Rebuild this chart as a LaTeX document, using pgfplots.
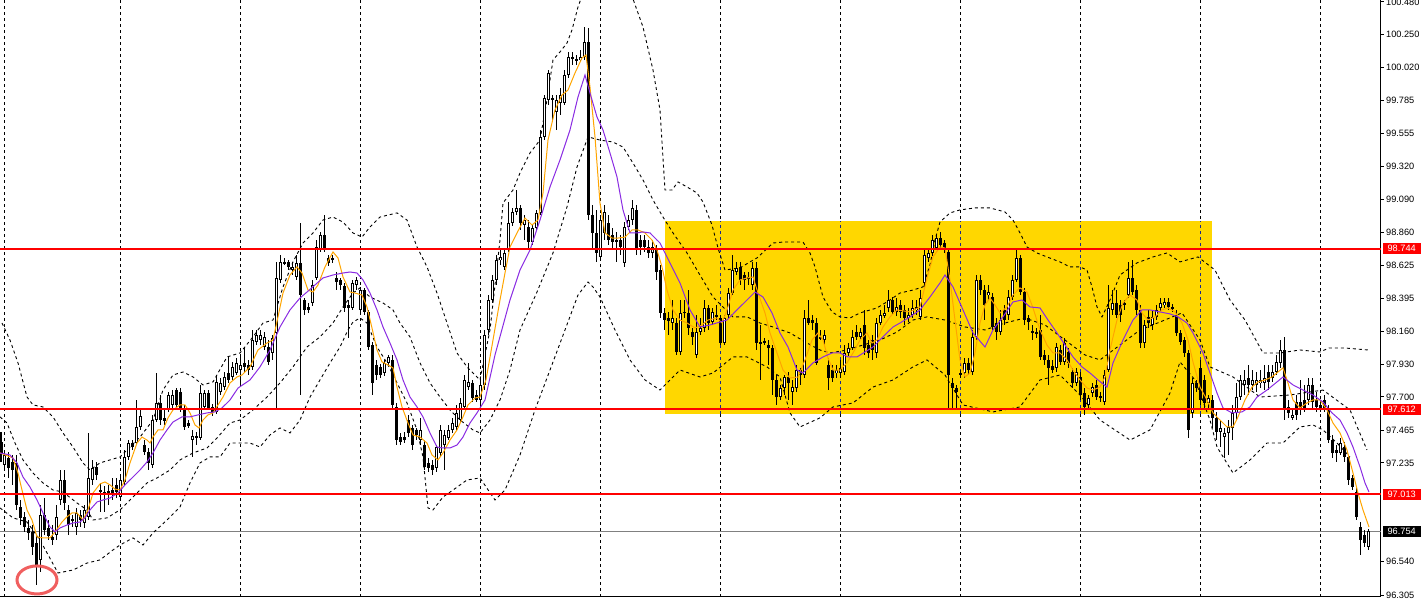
\documentclass[border=0pt]{standalone}
\usepackage{pgfplots}
\usepackage{pgfplotstable}
\pgfplotsset{compat=1.18}
\usepackage{fontspec}
\setmainfont{Liberation Sans}
\definecolor{maorange}{RGB}{255,165,0}
\definecolor{mapurple}{RGB}{138,43,226}
\definecolor{boxgold}{RGB}{255,215,0}
\definecolor{navygrid}{RGB}{25,40,140}
\definecolor{circred}{RGB}{240,95,95}
\pgfplotstableread{
i o h l c
0 97.382 97.453 97.242 97.305
1 97.221 97.326 97.185 97.291
2 97.270 97.312 97.129 97.200
3 97.242 97.291 97.080 97.185
4 97.235 97.291 96.904 96.939
5 96.925 96.974 96.798 96.848
6 96.855 96.890 96.749 96.784
7 96.777 96.833 96.692 96.742
8 96.749 96.798 96.587 96.643
9 96.671 96.728 96.376 96.503
10 96.552 96.939 96.467 96.869
11 96.869 96.988 96.728 96.763
12 96.777 96.833 96.692 96.721
13 96.714 96.798 96.657 96.692
14 96.728 96.939 96.692 96.855
15 96.974 97.185 96.939 97.115
16 97.115 97.185 96.904 96.953
17 96.904 96.939 96.728 96.798
18 96.841 96.869 96.784 96.826
19 96.784 96.918 96.728 96.883
20 96.869 96.904 96.784 96.833
21 96.812 96.939 96.777 96.904
22 96.855 97.446 96.833 97.129
23 97.115 97.256 97.080 97.200
24 97.207 97.242 97.115 97.150
25 97.044 97.094 96.890 97.030
26 97.030 97.073 96.890 97.023
27 97.037 97.080 96.939 97.023
28 97.044 97.129 96.974 97.009
29 97.080 97.129 96.988 97.030
30 96.995 97.150 96.974 97.115
31 97.101 97.326 97.080 97.277
32 97.277 97.396 97.256 97.375
33 97.375 97.396 97.326 97.347
34 97.375 97.678 97.361 97.488
35 97.488 97.608 97.467 97.566
36 97.361 97.396 97.291 97.312
37 97.312 97.340 97.185 97.235
38 97.221 97.573 97.200 97.537
39 97.537 97.868 97.523 97.657
40 97.657 97.713 97.502 97.537
41 97.552 97.608 97.502 97.530
42 97.608 97.734 97.594 97.713
43 97.643 97.748 97.608 97.713
44 97.748 97.762 97.622 97.643
45 97.734 97.762 97.594 97.622
46 97.608 97.643 97.467 97.488
47 97.516 97.537 97.481 97.495
48 97.396 97.467 97.277 97.424
49 97.424 97.453 97.361 97.410
50 97.410 97.783 97.396 97.727
51 97.629 97.748 97.608 97.727
52 97.727 97.748 97.608 97.622
53 97.629 97.650 97.566 97.594
54 97.594 97.854 97.580 97.805
55 97.734 97.833 97.713 97.798
56 97.769 97.875 97.748 97.840
57 97.868 97.981 97.798 97.819
58 97.840 97.946 97.819 97.911
59 97.868 97.974 97.854 97.939
60 97.889 97.995 97.784 97.925
61 97.939 98.051 97.875 97.911
62 97.925 97.960 97.854 97.889
63 97.911 98.171 97.889 98.100
64 98.086 98.171 98.065 98.136
65 98.100 98.171 98.065 98.136
66 98.051 98.157 98.030 98.122
67 98.051 98.100 97.925 97.946
68 98.009 98.136 97.960 98.115
69 98.150 98.650 97.622 98.537
70 98.523 98.699 98.502 98.650
71 98.650 98.678 98.629 98.643
72 98.650 98.664 98.593 98.615
73 98.593 98.650 98.558 98.615
74 98.544 98.699 98.523 98.643
75 98.643 98.924 97.713 98.417
76 98.382 98.396 98.277 98.312
77 98.333 98.361 98.291 98.312
78 98.361 98.523 98.340 98.488
79 98.537 98.804 98.523 98.755
80 98.734 98.861 98.720 98.840
81 98.840 98.981 98.720 98.734
82 98.678 98.699 98.622 98.643
83 98.678 98.699 98.643 98.664
84 98.537 98.579 98.452 98.509
85 98.523 98.537 98.452 98.488
86 98.481 98.502 98.298 98.326
87 98.347 98.382 98.115 98.326
88 98.326 98.523 98.312 98.502
89 98.488 98.544 98.452 98.523
90 98.312 98.474 98.298 98.452
91 98.452 98.467 98.277 98.298
92 98.298 98.312 98.030 98.051
93 98.065 98.086 97.713 97.798
94 97.925 97.960 97.819 97.854
95 97.911 97.932 97.833 97.854
96 97.868 97.960 97.847 97.939
97 97.939 97.995 97.925 97.981
98 97.960 97.995 97.608 97.643
99 97.629 97.657 97.361 97.396
100 97.417 97.446 97.361 97.382
101 97.417 97.453 97.375 97.396
102 97.537 97.573 97.417 97.446
103 97.481 97.502 97.326 97.361
104 97.467 97.481 97.396 97.432
105 97.396 97.552 97.361 97.467
106 97.361 97.396 97.185 97.207
107 97.235 97.270 97.171 97.200
108 97.221 97.256 97.150 97.185
109 97.200 97.361 97.171 97.347
110 97.305 97.502 97.284 97.467
111 97.361 97.467 97.185 97.432
112 97.410 97.502 97.396 97.467
113 97.467 97.552 97.446 97.516
114 97.488 97.643 97.467 97.587
115 97.537 97.692 97.516 97.657
116 97.629 97.854 97.608 97.819
117 97.769 97.939 97.748 97.805
118 97.798 97.819 97.664 97.692
119 97.713 97.748 97.664 97.678
120 97.678 97.819 97.608 97.784
121 97.784 98.171 97.748 98.136
122 98.171 98.417 98.136 98.382
123 98.382 98.558 98.361 98.523
124 98.523 98.699 98.488 98.664
125 98.664 98.734 98.629 98.685
126 98.615 98.748 98.593 98.713
127 98.734 99.072 98.720 98.924
128 98.924 99.030 98.903 99.002
129 99.002 99.156 98.981 99.030
130 99.030 99.051 98.875 98.924
131 98.910 98.981 98.804 98.945
132 98.896 98.945 98.734 98.790
133 98.790 98.910 98.769 98.889
134 98.889 99.016 98.875 98.995
135 98.995 99.579 98.981 99.530
136 99.530 99.825 99.508 99.804
137 99.790 100.001 99.755 99.980
138 99.804 99.825 99.649 99.790
139 99.706 99.825 99.579 99.790
140 99.769 99.875 99.685 99.825
141 99.769 100.001 99.755 99.966
142 99.966 100.128 99.945 100.093
143 100.093 100.128 100.037 100.079
144 100.079 100.107 100.037 100.065
145 100.072 100.142 100.058 100.093
146 100.093 100.304 100.072 100.198
147 100.198 100.297 98.945 98.981
148 98.981 99.051 98.734 98.854
149 98.854 99.016 98.650 98.713
150 98.685 98.981 98.664 98.945
151 98.854 99.051 98.804 99.002
152 98.924 98.981 98.769 98.804
153 98.840 98.889 98.734 98.790
154 98.804 98.861 98.650 98.790
155 98.804 98.840 98.699 98.755
156 98.643 98.931 98.615 98.896
157 98.896 98.981 98.875 98.945
158 98.945 99.086 98.910 99.030
159 99.016 99.051 98.699 98.748
160 98.804 98.840 98.699 98.755
161 98.804 98.840 98.720 98.755
162 98.755 98.804 98.678 98.713
163 98.713 98.804 98.678 98.755
164 98.734 98.769 98.523 98.579
165 98.593 98.629 98.255 98.291
166 98.291 98.326 98.171 98.241
167 98.255 98.298 98.136 98.234
168 98.220 98.382 98.171 98.255
169 98.220 98.255 97.995 98.016
170 98.016 98.382 97.995 98.291
171 98.291 98.382 98.255 98.298
172 98.291 98.452 98.136 98.185
173 98.157 98.185 98.065 98.122
174 97.995 98.277 97.974 98.157
175 98.157 98.255 98.136 98.185
176 98.185 98.382 98.157 98.326
177 98.326 98.347 98.171 98.220
178 98.227 98.326 98.206 98.298
179 98.277 98.347 98.241 98.263
180 98.255 98.277 98.065 98.079
181 98.079 98.277 98.065 98.255
182 98.277 98.467 98.255 98.431
183 98.431 98.699 98.417 98.593
184 98.579 98.650 98.558 98.608
185 98.615 98.650 98.488 98.523
186 98.558 98.579 98.452 98.523
187 98.544 98.579 98.488 98.530
188 98.488 98.650 98.452 98.608
189 98.608 98.650 98.030 98.079
190 98.086 98.206 97.819 98.079
191 98.093 98.115 98.065 98.086
192 98.065 98.100 97.925 98.044
193 98.044 98.065 97.713 97.819
194 97.819 97.854 97.643 97.699
195 97.699 97.784 97.678 97.762
196 97.762 97.854 97.713 97.840
197 97.840 97.875 97.678 97.798
198 97.734 97.819 97.643 97.769
199 97.762 97.925 97.734 97.889
200 97.889 97.904 97.784 97.854
201 97.854 98.312 97.833 98.255
202 98.255 98.382 98.206 98.220
203 98.241 98.277 98.171 98.220
204 98.220 98.255 97.925 97.939
205 98.115 98.171 98.100 98.122
206 98.100 98.171 98.065 98.136
207 97.925 97.974 97.748 97.833
208 97.889 97.925 97.805 97.833
209 97.868 97.925 97.833 97.889
210 97.868 97.960 97.833 97.904
211 97.875 98.065 97.854 98.009
212 98.009 98.079 97.988 98.044
213 98.044 98.171 98.030 98.122
214 98.157 98.206 98.100 98.122
215 98.122 98.185 98.100 98.157
216 98.206 98.312 97.995 98.044
217 98.065 98.100 97.974 98.009
218 98.100 98.136 97.960 98.030
219 98.009 98.255 97.974 98.220
220 98.220 98.312 98.206 98.277
221 98.270 98.347 98.255 98.291
222 98.326 98.452 98.298 98.382
223 98.382 98.403 98.277 98.298
224 98.298 98.396 98.270 98.333
225 98.347 98.382 98.255 98.298
226 98.312 98.347 98.206 98.255
227 98.255 98.326 98.227 98.277
228 98.277 98.382 98.255 98.326
229 98.312 98.382 98.277 98.333
230 98.263 98.452 98.241 98.396
231 98.502 98.734 98.474 98.699
232 98.678 98.748 98.650 98.713
233 98.713 98.840 98.692 98.804
234 98.748 98.840 98.734 98.818
235 98.818 98.861 98.748 98.769
236 98.783 98.804 98.713 98.734
237 98.720 98.748 97.608 97.854
238 97.798 97.833 97.608 97.762
239 97.762 97.784 97.608 97.734
240 97.854 97.889 97.833 97.868
241 97.868 97.974 97.833 97.939
242 97.939 97.974 97.854 97.889
243 97.875 98.171 97.854 98.122
244 98.122 98.558 98.100 98.523
245 98.523 98.558 98.417 98.452
246 98.452 98.488 98.241 98.347
247 98.417 98.488 98.382 98.438
248 98.403 98.431 98.171 98.192
249 98.220 98.255 98.100 98.157
250 98.157 98.312 98.136 98.241
251 98.312 98.347 98.206 98.241
252 98.277 98.452 98.241 98.403
253 98.403 98.558 98.382 98.523
254 98.523 98.748 98.509 98.678
255 98.678 98.699 98.417 98.438
256 98.438 98.467 98.206 98.241
257 98.255 98.277 98.171 98.227
258 98.164 98.206 98.100 98.150
259 98.157 98.185 98.115 98.143
260 98.171 98.277 97.960 97.981
261 97.995 98.030 97.925 97.960
262 97.960 97.995 97.784 97.904
263 97.918 97.960 97.868 97.889
264 97.904 98.079 97.875 98.051
265 98.030 98.065 97.925 97.946
266 97.946 98.115 97.925 98.079
267 98.016 98.044 97.904 97.939
268 97.875 97.904 97.762 97.798
269 97.798 97.904 97.776 97.875
270 97.840 97.875 97.678 97.713
271 97.727 97.762 97.573 97.629
272 97.643 97.713 97.608 97.692
273 97.727 97.798 97.699 97.769
274 97.784 97.819 97.678 97.699
275 97.706 97.734 97.664 97.692
276 97.664 97.889 97.643 97.854
277 97.889 98.488 97.875 98.326
278 98.312 98.452 98.277 98.361
279 98.361 98.452 98.255 98.277
280 98.347 98.382 98.227 98.277
281 98.361 98.382 98.312 98.347
282 98.417 98.650 98.396 98.537
283 98.537 98.664 98.417 98.438
284 98.452 98.488 98.277 98.312
285 98.312 98.347 98.044 98.079
286 98.079 98.241 98.044 98.206
287 98.263 98.312 98.185 98.220
288 98.206 98.312 98.171 98.263
289 98.263 98.347 98.241 98.312
290 98.326 98.396 98.298 98.361
291 98.347 98.396 98.326 98.368
292 98.368 98.396 98.312 98.333
293 98.333 98.354 98.298 98.319
294 98.277 98.312 98.129 98.150
295 98.150 98.171 98.065 98.086
296 98.100 98.122 97.981 98.009
297 98.009 98.030 97.410 97.467
298 97.587 97.833 97.552 97.798
299 97.798 97.819 97.734 97.762
300 97.904 97.960 97.643 97.678
301 97.819 97.854 97.622 97.657
302 97.657 97.713 97.608 97.692
303 97.678 97.713 97.481 97.552
304 97.552 97.594 97.396 97.453
305 97.453 97.537 97.347 97.481
306 97.417 97.481 97.270 97.446
307 97.446 97.537 97.291 97.488
308 97.481 97.643 97.396 97.587
309 97.587 97.798 97.537 97.699
310 97.699 97.854 97.678 97.819
311 97.784 97.889 97.713 97.819
312 97.833 97.925 97.713 97.784
313 97.784 97.889 97.748 97.819
314 97.784 97.875 97.734 97.819
315 97.798 97.889 97.762 97.819
316 97.798 97.925 97.748 97.833
317 97.875 97.925 97.748 97.805
318 97.833 97.925 97.805 97.875
319 97.875 97.995 97.854 97.946
320 97.939 98.100 97.904 98.030
321 98.030 98.122 97.537 97.608
322 97.629 97.678 97.552 97.587
323 97.552 97.608 97.537 97.573
324 97.664 97.713 97.537 97.573
325 97.664 97.819 97.573 97.608
326 97.678 97.784 97.594 97.608
327 97.678 97.833 97.643 97.784
328 97.784 97.833 97.622 97.664
329 97.678 97.734 97.594 97.629
330 97.643 97.678 97.594 97.622
331 97.678 97.713 97.594 97.608
332 97.608 97.643 97.375 97.396
333 97.396 97.432 97.270 97.305
334 97.326 97.361 97.242 97.305
335 97.305 97.410 97.291 97.375
336 97.347 97.382 97.242 97.277
337 97.277 97.291 97.080 97.115
338 97.129 97.150 97.044 97.065
339 97.030 97.058 96.833 96.855
340 96.784 96.819 96.587 96.692
341 96.728 96.763 96.643 96.671
342 96.643 96.770 96.622 96.754
}\candles
\begin{document}
\begin{tikzpicture}
\useasboundingbox (0,0) rectangle (1422pt,599pt);
\begin{axis}[
  at={(0pt,2pt)}, anchor=south west,
  scale only axis, width=1381pt, height=597pt,
  xmin=-0.25, xmax=345, ymin=96.291, ymax=100.494,
  clip mode=individual,
  axis x line*=bottom, axis y line*=right,
  axis line style={black, line width=1pt},
  xtick={1,30,60,90,120,150,180,210,240,270,300,330},
  xticklabels={}, xtick style={draw=none},
  xmajorgrids, major grid style={black, line width=1pt, dash pattern=on 3pt off 3pt},
  ytick={100.480,100.250,100.020,99.785,99.555,99.320,99.090,98.860,98.625,98.395,98.160,97.930,97.700,97.465,97.235,96.540,96.305},
  yticklabels={100.480,100.250,100.020,99.785,99.555,99.320,99.090,98.860,98.625,98.395,98.160,97.930,97.700,97.465,97.235,96.540,96.305},
  ytick style={black, line width=1pt}, tick align=outside, major tick length=3pt,
  yticklabel style={font=\fontsize{9.2}{10}\selectfont, inner sep=0pt, anchor=west, xshift=2pt},
]
% yellow range box
\fill[boxgold] (axis cs:166,97.580) rectangle (axis cs:302.75,98.938);
\draw[navygrid, line width=1pt, dash pattern=on 3pt off 3pt] (axis cs:180,97.580) -- (axis cs:180,98.938);
\draw[navygrid, line width=1pt, dash pattern=on 3pt off 3pt] (axis cs:210,97.580) -- (axis cs:210,98.938);
\draw[navygrid, line width=1pt, dash pattern=on 3pt off 3pt] (axis cs:240,97.580) -- (axis cs:240,98.938);
\draw[navygrid, line width=1pt, dash pattern=on 3pt off 3pt] (axis cs:270,97.580) -- (axis cs:270,98.938);
\draw[navygrid, line width=1pt, dash pattern=on 3pt off 3pt] (axis cs:300,97.580) -- (axis cs:300,98.938);
% current price line
\addplot[color={rgb,255:red,128;green,128;blue,128}, line width=1pt, forget plot] coordinates {(-0.25,96.754) (345,96.754)};
% Bollinger bands (upper, middle, lower)
\addplot[black, line width=0.9pt, dash pattern=on 3pt off 3pt, forget plot] coordinates {
(0.25,98.220) (2.25,98.100) (4.25,97.939) (6.5,97.699) (8,97.643) (10.5,97.629) (13,97.559) (15.5,97.446) (18,97.347) (20.5,97.235) (22.25,97.185) (24.75,97.235) (27.25,97.256) (29.75,97.277) (34.75,97.417) (38,97.537) (40.5,97.748) (43,97.854) (45.5,97.875) (48,97.840) (50.5,97.784) (53,97.805) (56.5,97.981) (59.75,98.009) (63,98.122) (65.5,98.220) (68,98.241) (70.5,98.474) (73,98.650) (75.5,98.783) (78,98.854) (80.5,98.945) (83,98.966) (85.5,98.931) (88,98.854) (90.25,98.825) (92.25,98.896) (94.75,98.966) (99,98.995) (101.5,98.945) (104,98.755) (106.5,98.615) (109,98.431) (111.5,98.220) (114,98.009) (116.5,97.911) (119.75,97.819) (122.25,98.171) (124.75,98.804) (125.5,99.065) (128,99.156) (129.75,99.276) (132.25,99.417) (134.75,99.508) (136.5,99.790) (138,100.072) (139.75,100.128) (141.5,100.191) (142.75,100.283) (144.25,100.445) (146.25,100.600) (156.75,100.600) (160.5,100.304) (163,100.001) (164.75,99.720) (166,99.156) (167.75,99.156) (169.25,99.213) (171.5,99.178) (174,99.135) (175.5,99.072) (177.75,98.910) (179.25,98.748) (181,98.593) (184.75,98.608) (187.25,98.650) (189,98.678) (193,98.783) (195.5,98.790) (200.5,98.790) (202.25,98.713) (203.5,98.615) (205.5,98.403) (207.75,98.298) (209.75,98.263) (212.25,98.255) (214.75,98.291) (219,98.326) (222.25,98.382) (224.75,98.431) (228,98.452) (230.5,98.474) (232.25,98.629) (233.5,98.804) (234.75,98.931) (237.25,98.995) (239.75,99.016) (243.5,99.030) (247.25,99.030) (251,99.002) (253,98.945) (254.75,98.854) (256.5,98.755) (259,98.713) (261.5,98.685) (264.75,98.650) (267.25,98.615) (269.75,98.615) (271.5,98.593) (272.75,98.474) (274,98.333) (275.25,98.263) (277.25,98.382) (279.75,98.558) (284,98.643) (288,98.685) (291.5,98.713) (294.75,98.650) (299.25,98.685) (303.5,98.593) (307.25,98.382) (311,98.241) (315.5,98.009) (319.75,98.009) (324.75,98.030) (329.75,98.016) (332,98.044) (336,98.044) (341.75,98.030)
};
\addplot[black, line width=0.9pt, dash pattern=on 3pt off 3pt, forget plot] coordinates {
(-0.25,97.559) (1.5,97.516) (3.5,97.375) (5.5,97.256) (8,97.164) (10.5,97.094) (13,97.044) (15.5,97.030) (19,96.953) (21.5,96.904) (23,96.833) (26.5,96.848) (29.75,96.904) (33,96.995) (36.5,97.094) (39,97.129) (42.25,97.185) (44.75,97.256) (48,97.305) (51.5,97.340) (54,97.410) (57.25,97.516) (59.75,97.537) (63,97.608) (66.5,97.699) (69.75,97.798) (73,97.911) (76.5,98.051) (79.75,98.122) (83,98.220) (85.5,98.333) (88,98.431) (89.75,98.467) (92.25,98.403) (95.5,98.361) (98,98.312) (99.75,98.220) (102.25,98.122) (104.75,97.939) (107.25,97.798) (109.75,97.699) (112.25,97.608) (114.75,97.537) (118,97.467) (119.75,97.446) (122.25,97.537) (124.75,97.678) (127.25,97.889) (129.75,98.171) (134,98.438) (138,98.713) (141.5,99.037) (144,99.318) (146.75,99.530) (149.75,99.508) (153,99.494) (155.5,99.459) (158,99.346) (160.5,99.227) (163,99.086) (165.5,98.966) (168,98.854) (171.5,98.713) (174,98.593) (178,98.403) (183,98.263) (186.5,98.263) (189.75,98.220) (193,98.192) (197.25,98.150) (201.5,98.079) (204.75,98.030) (207.25,98.009) (211.5,98.030) (215.5,98.065) (219.75,98.100) (224,98.157) (228,98.241) (231.5,98.263) (236,98.241) (241,98.192) (246,98.171) (251,98.220) (256,98.255) (261,98.206) (266,98.100) (271,97.995) (274.75,97.960) (279.75,98.065) (284.75,98.171) (289.75,98.227) (295.25,98.291) (299.75,98.100) (302.25,97.911) (308,97.840) (314.75,97.699) (322.25,97.713) (330.5,97.748) (337.25,97.608) (341.5,97.326)
};
\addplot[black, line width=0.9pt, dash pattern=on 3pt off 3pt, forget plot] coordinates {
(-0.25,96.918) (3,96.848) (6.5,96.819) (9.75,96.692) (14.25,96.460) (18,96.481) (21.5,96.530) (24.75,96.552) (28,96.622) (29.75,96.657) (33,96.707) (35.5,96.657) (38,96.742) (41.5,96.833) (44.75,96.925) (47.25,97.094) (49.75,97.235) (52.25,97.277) (54.75,97.277) (57.25,97.375) (62.25,97.375) (64.75,97.347) (67.25,97.432) (69.75,97.481) (72.25,97.446) (74.75,97.537) (77.25,97.699) (79.75,97.819) (82.25,97.939) (84.75,98.051) (86.75,98.171) (88,98.227) (89.75,98.255) (91.5,98.220) (94,98.051) (96.5,97.939) (99,97.798) (101.5,97.657) (104,97.467) (105.5,97.277) (106.75,96.918) (108,96.904) (110.5,96.995) (113,97.044) (116.5,97.115) (119.75,97.129) (123.5,96.974) (126,97.044) (129.75,97.291) (133.5,97.608) (137.25,97.889) (141,98.171) (144.25,98.417) (146.75,98.509) (148,98.474) (149.75,98.403) (153.5,98.171) (157.25,97.960) (161,97.819) (164.75,97.748) (169.75,97.889) (174.75,97.840) (178,97.868) (183,97.981) (186.5,97.981) (191.5,97.911) (194.75,97.840) (197.25,97.587) (199.75,97.488) (204.75,97.552) (208,97.629) (213,97.657) (218,97.769) (223,97.819) (228,97.911) (231.5,97.960) (236,97.854) (240.5,97.643) (248,97.594) (254.75,97.629) (259.75,97.819) (264.75,97.854) (269.75,97.713) (274.75,97.537) (282.25,97.396) (287.25,97.467) (292.25,97.727) (294.75,97.946) (298.5,97.819) (302.25,97.537) (304,97.347) (308,97.164) (312.25,97.256) (316.5,97.375) (320.5,97.375) (324.75,97.488) (328,97.502) (330.5,97.467) (334,97.375) (337.25,97.277)
};
% wicks
\addplot[draw=none, mark=none, forget plot, error bars/.cd, y dir=both, y explicit, error mark=none,
  error bar style={draw=black, solid, line width=1pt}]
  table[x=i, y expr={(\thisrow{h}+\thisrow{l})/2}, y error expr={(\thisrow{h}-\thisrow{l})/2}] {\candles};
% bodies
\addplot[draw=none, mark=none, forget plot, error bars/.cd, y dir=both, y explicit, error mark=none,
  error bar style={draw=black, solid, line width=3pt}]
  table[x=i, y expr={(\thisrow{o}+\thisrow{c})/2}, y error expr={max(abs(\thisrow{o}-\thisrow{c})/2,0.0035)}] {\candles};
\addplot[draw=none, mark=none, forget plot, error bars/.cd, y dir=both, y explicit, error mark=none,
  error bar style={draw=white, solid, line width=1pt}]
  table[x=i, y expr={(\thisrow{o}+\thisrow{c})/2}, y error expr={(\thisrow{c}>\thisrow{o}) ? max((\thisrow{c}-\thisrow{o})/2-0.0070,0) : 0}] {\candles};
% fast MA (orange)
\addplot[maorange, line width=1pt] coordinates {
(-0.25,97.305) (3,97.270) (4.25,97.164) (5.25,97.044) (6.5,96.904) (7.75,96.833) (9,96.714) (10.5,96.707) (12.25,96.707) (13.5,96.749) (15.25,96.819) (16.5,96.855) (17.75,96.883) (19,96.883) (20.5,96.833) (21.75,96.904) (23,97.023) (24.75,97.087) (26,97.101) (27.25,97.080) (28.5,97.051) (29.75,97.044) (31,97.115) (32.25,97.235) (34,97.375) (35.25,97.417) (36.5,97.396) (37.25,97.375) (38,97.417) (39.25,97.467) (40.5,97.467) (41.75,97.552) (43,97.608) (44.75,97.643) (46,97.643) (47.25,97.587) (48.5,97.502) (49.5,97.481) (50.5,97.537) (51.75,97.573) (53,97.587) (54.25,97.643) (55.5,97.699) (57.25,97.798) (59,97.840) (60.25,97.854) (62.25,97.911) (64.25,98.030) (66.5,98.079) (68,98.100) (69.25,98.263) (70.5,98.431) (72.25,98.558) (74,98.615) (75.25,98.572) (76.75,98.452) (78,98.438) (79.25,98.488) (81,98.615) (83,98.720) (84.25,98.678) (85.5,98.544) (87.25,98.438) (88.5,98.431) (90.25,98.417) (91.5,98.333) (92.75,98.185) (94,98.030) (95.25,97.946) (96.75,97.925) (98,97.904) (99,97.769) (100.25,97.629) (101.75,97.516) (103,97.432) (104.75,97.417) (106.5,97.375) (107.75,97.291) (109.25,97.256) (110.5,97.305) (112.25,97.396) (114,97.467) (115.5,97.559) (116.75,97.643) (118.5,97.692) (119.75,97.699) (121.25,97.819) (123,98.100) (124.75,98.382) (126,98.572) (127.25,98.755) (129,98.854) (131,98.959) (132.75,98.910) (134.25,98.945) (135.5,99.135) (136.75,99.508) (138.5,99.720) (140.25,99.825) (141.75,99.860) (143.5,99.980) (145.25,100.086) (146.25,100.107) (147.25,99.881) (148.5,99.530) (149.75,99.065) (151,98.854) (152.75,98.818) (154.25,98.818) (156,98.825) (157.75,98.875) (159.25,98.875) (161,98.854) (162.75,98.804) (164,98.734) (165.25,98.615) (166.5,98.452) (168,98.312) (169.75,98.241) (171.5,98.220) (173.5,98.185) (175.25,98.206) (176.75,98.241) (179,98.255) (180.25,98.220) (181.5,98.312) (183,98.452) (184.75,98.523) (186.5,98.537) (188,98.544) (189.25,98.431) (191,98.291) (192.25,98.150) (194,98.009) (195.5,97.889) (197.25,97.833) (199.25,97.840) (201,97.960) (202.75,98.100) (204.25,98.150) (205.5,98.100) (206.75,97.974) (208,97.889) (209.75,97.889) (211.5,97.939) (213,98.009) (214.75,98.100) (216.5,98.150) (217.75,98.079) (219,98.100) (220.5,98.192) (222.25,98.263) (224,98.312) (227.25,98.298) (229.75,98.333) (231.5,98.537) (233,98.685) (234.75,98.755) (236,98.748) (237.25,98.523) (238.5,98.241) (239.75,97.960) (241,97.840) (242.25,97.868) (243.5,98.009) (244.75,98.220) (246,98.347) (247.25,98.396) (248.5,98.347) (249.75,98.291) (251.5,98.333) (253,98.417) (254.75,98.467) (256.5,98.438) (258,98.326) (259.75,98.171) (261.5,98.065) (263,98.009) (264.75,98.009) (266.5,97.960) (268,97.889) (269.75,97.819) (271.5,97.762) (273,97.748) (274.75,97.769) (276,97.840) (277.25,98.030) (279,98.241) (280.5,98.361) (282.25,98.417) (284,98.382) (285.25,98.291) (286.75,98.241) (288.5,98.263) (290.25,98.312) (291.75,98.326) (293.5,98.298) (295.25,98.220) (296.75,98.100) (298,97.946) (299.75,97.769) (301.5,97.678) (303,97.587) (304.75,97.537) (306.5,97.488) (308,97.488) (309.25,97.559) (311,97.678) (312.75,97.769) (314.25,97.805) (316,97.819) (317.75,97.840) (319.25,97.875) (320.5,97.904) (321.75,97.798) (323,97.678) (324.75,97.622) (326.5,97.657) (328,97.678) (329.75,97.678) (331.5,97.608) (333,97.516) (334.75,97.446) (336.5,97.326) (338,97.164) (339.25,97.023) (340.5,96.904) (342,96.784)
};
% slow MA (purple)
\addplot[mapurple, line width=1pt] coordinates {
(-0.25,97.305) (2.25,97.291) (4,97.235) (5.5,97.136) (7.25,97.065) (9,96.974) (10.5,96.883) (12.25,96.784) (13.5,96.749) (14.75,96.777) (16.5,96.798) (18,96.812) (19.75,96.819) (21,96.848) (22.25,96.904) (24,96.960) (25.5,96.974) (27.25,96.988) (29.25,97.023) (31,97.080) (33,97.136) (34.75,97.185) (36.5,97.242) (38,97.305) (39.75,97.396) (41.5,97.467) (43,97.523) (45.25,97.559) (47.25,97.559) (49.25,97.573) (51.5,97.587) (53.5,97.594) (55.25,97.622) (57.25,97.678) (59.25,97.762) (62.25,97.819) (64.75,97.911) (67.25,98.030) (69.75,98.192) (72.25,98.312) (74.75,98.396) (76.5,98.438) (78.5,98.488) (80.5,98.537) (83,98.558) (85.5,98.572) (87.25,98.579) (89,98.572) (90.5,98.523) (92.25,98.431) (94,98.312) (95.5,98.192) (97.25,98.079) (99,97.960) (100.5,97.819) (102.25,97.699) (104,97.629) (105.5,97.559) (107.25,97.446) (109,97.347) (110.5,97.340) (112.25,97.340) (114,97.361) (115.5,97.417) (117.25,97.516) (119,97.587) (121,97.678) (123.5,97.995) (127.25,98.382) (129.75,98.593) (132.25,98.734) (134.75,98.945) (137.25,99.178) (139.75,99.368) (142.25,99.579) (144.25,99.811) (146,99.966) (147.25,99.839) (149,99.670) (150.5,99.579) (152.25,99.417) (154,99.248) (155.5,99.016) (157.25,98.854) (159,98.854) (160.5,98.861) (162.25,98.854) (164,98.804) (164.75,98.783) (167.25,98.643) (169.75,98.502) (172.25,98.312) (174.75,98.192) (177.25,98.206) (179.75,98.227) (181.5,98.241) (184,98.312) (186.5,98.382) (188.5,98.438) (190.5,98.403) (192.75,98.291) (194.75,98.150) (196.75,98.051) (199,97.889) (200.5,97.868) (203,97.939) (205.5,97.981) (207.75,98.009) (209.75,98.009) (211.75,97.981) (214,97.981) (216,98.016) (218,98.051) (220.5,98.122) (223,98.192) (224.75,98.220) (227.25,98.263) (229.75,98.312) (232.25,98.403) (234.75,98.502) (236,98.558) (238,98.474) (240.5,98.312) (243,98.150) (246,98.051) (248,98.171) (250.5,98.263) (253,98.368) (255.25,98.382) (257.25,98.333) (259.75,98.326) (261.75,98.241) (264,98.150) (266,98.065) (268,97.981) (270.25,97.911) (272.25,97.868) (274.25,97.819) (276.5,97.769) (278,97.939) (280.5,98.100) (283,98.241) (285.25,98.312) (287.25,98.312) (289.75,98.298) (292.25,98.284) (294.25,98.263) (296.5,98.220) (298,98.150) (299.75,98.051) (300.5,98.009) (302.25,97.868) (304,97.727) (305.5,97.622) (307.75,97.587) (310.25,97.594) (312.25,97.629) (314,97.699) (316.5,97.748) (319,97.805) (320.5,97.840) (323,97.784) (325.5,97.748) (328,97.713) (330.5,97.664) (332.75,97.587) (334.75,97.537) (336.5,97.446) (338,97.347) (339.75,97.207) (341,97.094) (342,97.030)
};
% horizontal levels
\addplot[red, line width=2pt, forget plot] coordinates {(-0.25,98.744) (345,98.744)};
\addplot[red, line width=2pt, forget plot] coordinates {(-0.25,97.612) (345,97.612)};
\addplot[red, line width=2pt, forget plot] coordinates {(-0.25,97.013) (345,97.013)};
% right-hand price labels
\begin{scope}[every node/.style={anchor=west, inner sep=0pt, minimum width=38pt, minimum height=11pt, text=white, font=\fontsize{9.2}{10}\selectfont, xshift=1.5pt}]
\node[fill=red] at (axis cs:345,98.744) {98.744};
\node[fill=red] at (axis cs:345,97.612) {97.612};
\node[fill=red] at (axis cs:345,97.013) {97.013};
\node[fill=black] at (axis cs:345,96.754) {96.754};
\end{scope}
% low marker
\draw[circred, line width=3pt] (axis cs:9,96.411) ellipse [x radius=20pt, y radius=14pt];
\end{axis}
\end{tikzpicture}
\end{document}
